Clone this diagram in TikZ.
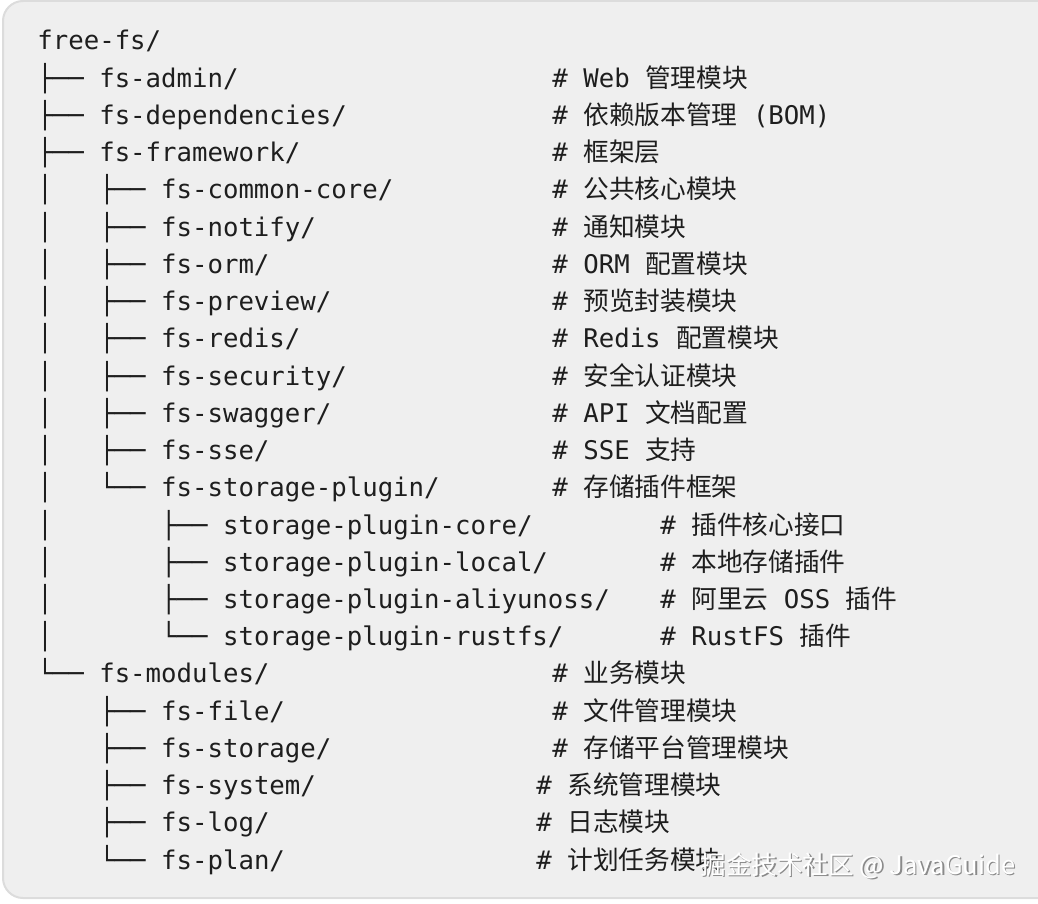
\documentclass[tikz,border=0pt]{standalone}
\usepackage{fontspec}
\setmonofont{DejaVu Sans Mono}
\newfontfamily\zhfont{Noto Sans CJK SC}
\usetikzlibrary{positioning}

\definecolor{codebg}{HTML}{EFEFEF}
\definecolor{codeedge}{HTML}{DCDCDC}
\definecolor{codetext}{HTML}{1E1E1E}
\definecolor{markshadow}{HTML}{8A8A8A}

\newcommand{\zh}[1]{{\zhfont #1}}
\newcommand{\vbar}{│\ \ \ }
\newcommand{\vgap}{\ \ \ \ }

\begin{document}
\begin{tikzpicture}[
    x=0.5pt,
    y=-0.5pt,
    codebox/.style={
        fill=codebg,
        draw=codeedge,
        line width=1pt,
        rounded corners=10pt,
    },
    entry/.style={
        anchor=base west,
        inner sep=0pt,
        text=codetext,
        font=\ttfamily\fontsize{12.85}{15}\selectfont,
    },
    note/.style={
        entry,
    },
    watermark/.style={
        anchor=base west,
        inner sep=0pt,
        font=\zhfont\fontsize{12.8}{15}\selectfont,
    }
]
    \useasboundingbox (0,0) rectangle (1038,904);

    % Background
    \draw[codebox] (3,1) rectangle (1060,898);

    % Tree
    \node[entry] (root)      at (37,50)    {free-fs/};
    \node[entry] (admin)     at (37,87.2)  {├── fs-admin/};
    \node[entry] (deps)      at (37,124.5) {├── fs-dependencies/};
    \node[entry] (framework) at (37,161.7) {├── fs-framework/};
    \node[entry] (core)      at (37,198.9) {\vbar├── fs-common-core/};
    \node[entry] (notify)    at (37,236.2) {\vbar├── fs-notify/};
    \node[entry] (orm)       at (37,273.4) {\vbar├── fs-orm/};
    \node[entry] (preview)   at (37,310.6) {\vbar├── fs-preview/};
    \node[entry] (redis)     at (37,347.8) {\vbar├── fs-redis/};
    \node[entry] (security)  at (37,385.1) {\vbar├── fs-security/};
    \node[entry] (swagger)   at (37,422.3) {\vbar├── fs-swagger/};
    \node[entry] (sse)       at (37,459.5) {\vbar├── fs-sse/};
    \node[entry] (plugin)    at (37,496.8) {\vbar└── fs-storage-plugin/};
    \node[entry] (pcore)     at (37,534.0) {\vbar\vgap├── storage-plugin-core/};
    \node[entry] (plocal)    at (37,571.2) {\vbar\vgap├── storage-plugin-local/};
    \node[entry] (poss)      at (37,608.5) {\vbar\vgap├── storage-plugin-aliyunoss/};
    \node[entry] (prustfs)   at (37,645.7) {\vbar\vgap└── storage-plugin-rustfs/};
    \node[entry] (modules)   at (37,682.9) {└── fs-modules/};
    \node[entry] (file)      at (37,720.1) {\vgap├── fs-file/};
    \node[entry] (storage)   at (37,757.4) {\vgap├── fs-storage/};
    \node[entry] (system)    at (37,794.6) {\vgap├── fs-system/};
    \node[entry] (log)       at (37,831.8) {\vgap├── fs-log/};
    \node[entry] (plan)      at (37,869.1) {\vgap└── fs-plan/};

    % Comments
    \node[note] (admin-note)     at (552,87.2)  {\# Web \zh{管理模块}};
    \node[note] (deps-note)      at (552,124.5) {\# \zh{依赖版本管理} (BOM)};
    \node[note] (framework-note) at (552,161.7) {\# \zh{框架层}};
    \node[note] (core-note)      at (552,198.9) {\# \zh{公共核心模块}};
    \node[note] (notify-note)    at (552,236.2) {\# \zh{通知模块}};
    \node[note] (orm-note)       at (552,273.4) {\# ORM \zh{配置模块}};
    \node[note] (preview-note)   at (552,310.6) {\# \zh{预览封装模块}};
    \node[note] (redis-note)     at (552,347.8) {\# Redis \zh{配置模块}};
    \node[note] (security-note)  at (552,385.1) {\# \zh{安全认证模块}};
    \node[note] (swagger-note)   at (552,422.3) {\# API \zh{文档配置}};
    \node[note] (sse-note)       at (552,459.5) {\# SSE \zh{支持}};
    \node[note] (plugin-note)    at (552,496.8) {\# \zh{存储插件框架}};
    \node[note] (pcore-note)     at (660,534.0) {\# \zh{插件核心接口}};
    \node[note] (plocal-note)    at (660,571.2) {\# \zh{本地存储插件}};
    \node[note] (poss-note)      at (660,608.5) {\# \zh{阿里云} OSS \zh{插件}};
    \node[note] (prustfs-note)   at (660,645.7) {\# RustFS \zh{插件}};
    \node[note] (modules-note)   at (552,682.9) {\# \zh{业务模块}};
    \node[note] (file-note)      at (552,720.1) {\# \zh{文件管理模块}};
    \node[note] (storage-note)   at (552,757.4) {\# \zh{存储平台管理模块}};
    \node[note] (system-note)    at (536,794.6) {\# \zh{系统管理模块}};
    \node[note] (log-note)       at (536,831.8) {\# \zh{日志模块}};
    \node[note] (plan-note)      at (536,869.1) {\# \zh{计划任务模块}};

    % Watermark
    \node[watermark, text=markshadow] (mark-shadow) at (701.5,875.5) {掘金技术社区 @ JavaGuide};
    \node[watermark, text=white] (mark) at (700,874) {掘金技术社区 @ JavaGuide};
\end{tikzpicture}
\end{document}
